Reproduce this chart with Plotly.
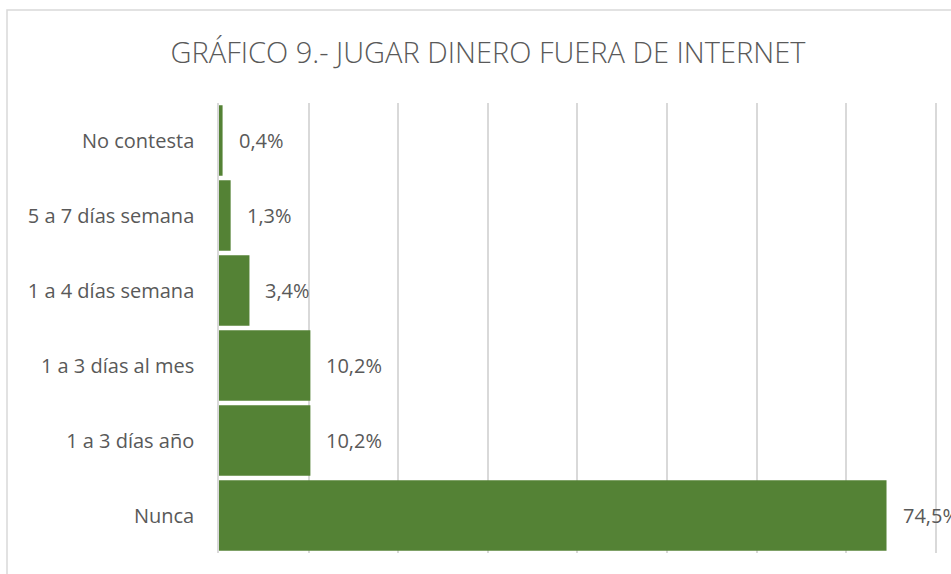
import plotly.graph_objects as go

categories = ["No contesta", "5 a 7 días semana", "1 a 4 días semana",
              "1 a 3 días al mes", "1 a 3 días año", "Nunca"]
values = [0.4, 1.3, 3.4, 10.2, 10.2, 74.5]
labels = ["0,4%", "1,3%", "3,4%", "10,2%", "10,2%", "74,5%"]
title_text = "GRÁFICO 9.- JUGAR DINERO FUERA DE INTERNET"

W, H = 951, 574
L, R, T, B = 219, 0, 103, 21
pw, ph = W - L - R, H - T - B

FONT = "Open Sans"
TXT = "#595959"
GRID = "#d9d9d9"

fig = go.Figure(go.Bar(
    x=values, y=categories, orientation="h",
    marker=dict(color="#548235", line=dict(width=0)),
    hoverinfo="skip",
))

for v, c, lab in zip(values, categories, labels):
    fig.add_annotation(x=v, y=c, text=lab, showarrow=False, xanchor="left",
                       xshift=14, font=dict(family=FONT, size=20, color=TXT))

fig.add_shape(type="rect", xref="paper", yref="paper",
              x0=(7 - L) / pw, x1=1.05, y0=-0.1, y1=(H - B - 10) / ph,
              line=dict(color=GRID, width=1.5), fillcolor="rgba(0,0,0,0)",
              layer="below")

fig.update_layout(
    width=W, height=H,
    margin=dict(l=L, r=R, t=T, b=B),
    paper_bgcolor="white", plot_bgcolor="white",
    bargap=0.06,
    showlegend=False,
    title=dict(text=title_text, x=488 / W, xanchor="center", y=1 - 53 / H,
               yanchor="middle",
               font=dict(family=FONT, size=29, color=TXT, weight=300)),
    xaxis=dict(range=[0, pw / 8.96], dtick=10, showticklabels=False,
               showgrid=True, gridcolor=GRID, gridwidth=1.5,
               zeroline=False, showline=False, fixedrange=True),
    yaxis=dict(autorange="reversed", showgrid=False, showline=True,
               linecolor=GRID, linewidth=1.5, ticks="",
               ticklabelstandoff=19, fixedrange=True,
               tickfont=dict(family=FONT, size=20, color=TXT)),
)

fig.write_html("out.html", config={"displayModeBar": False},
               post_script="document.body.style.margin='0';document.body.style.overflow='hidden';")
